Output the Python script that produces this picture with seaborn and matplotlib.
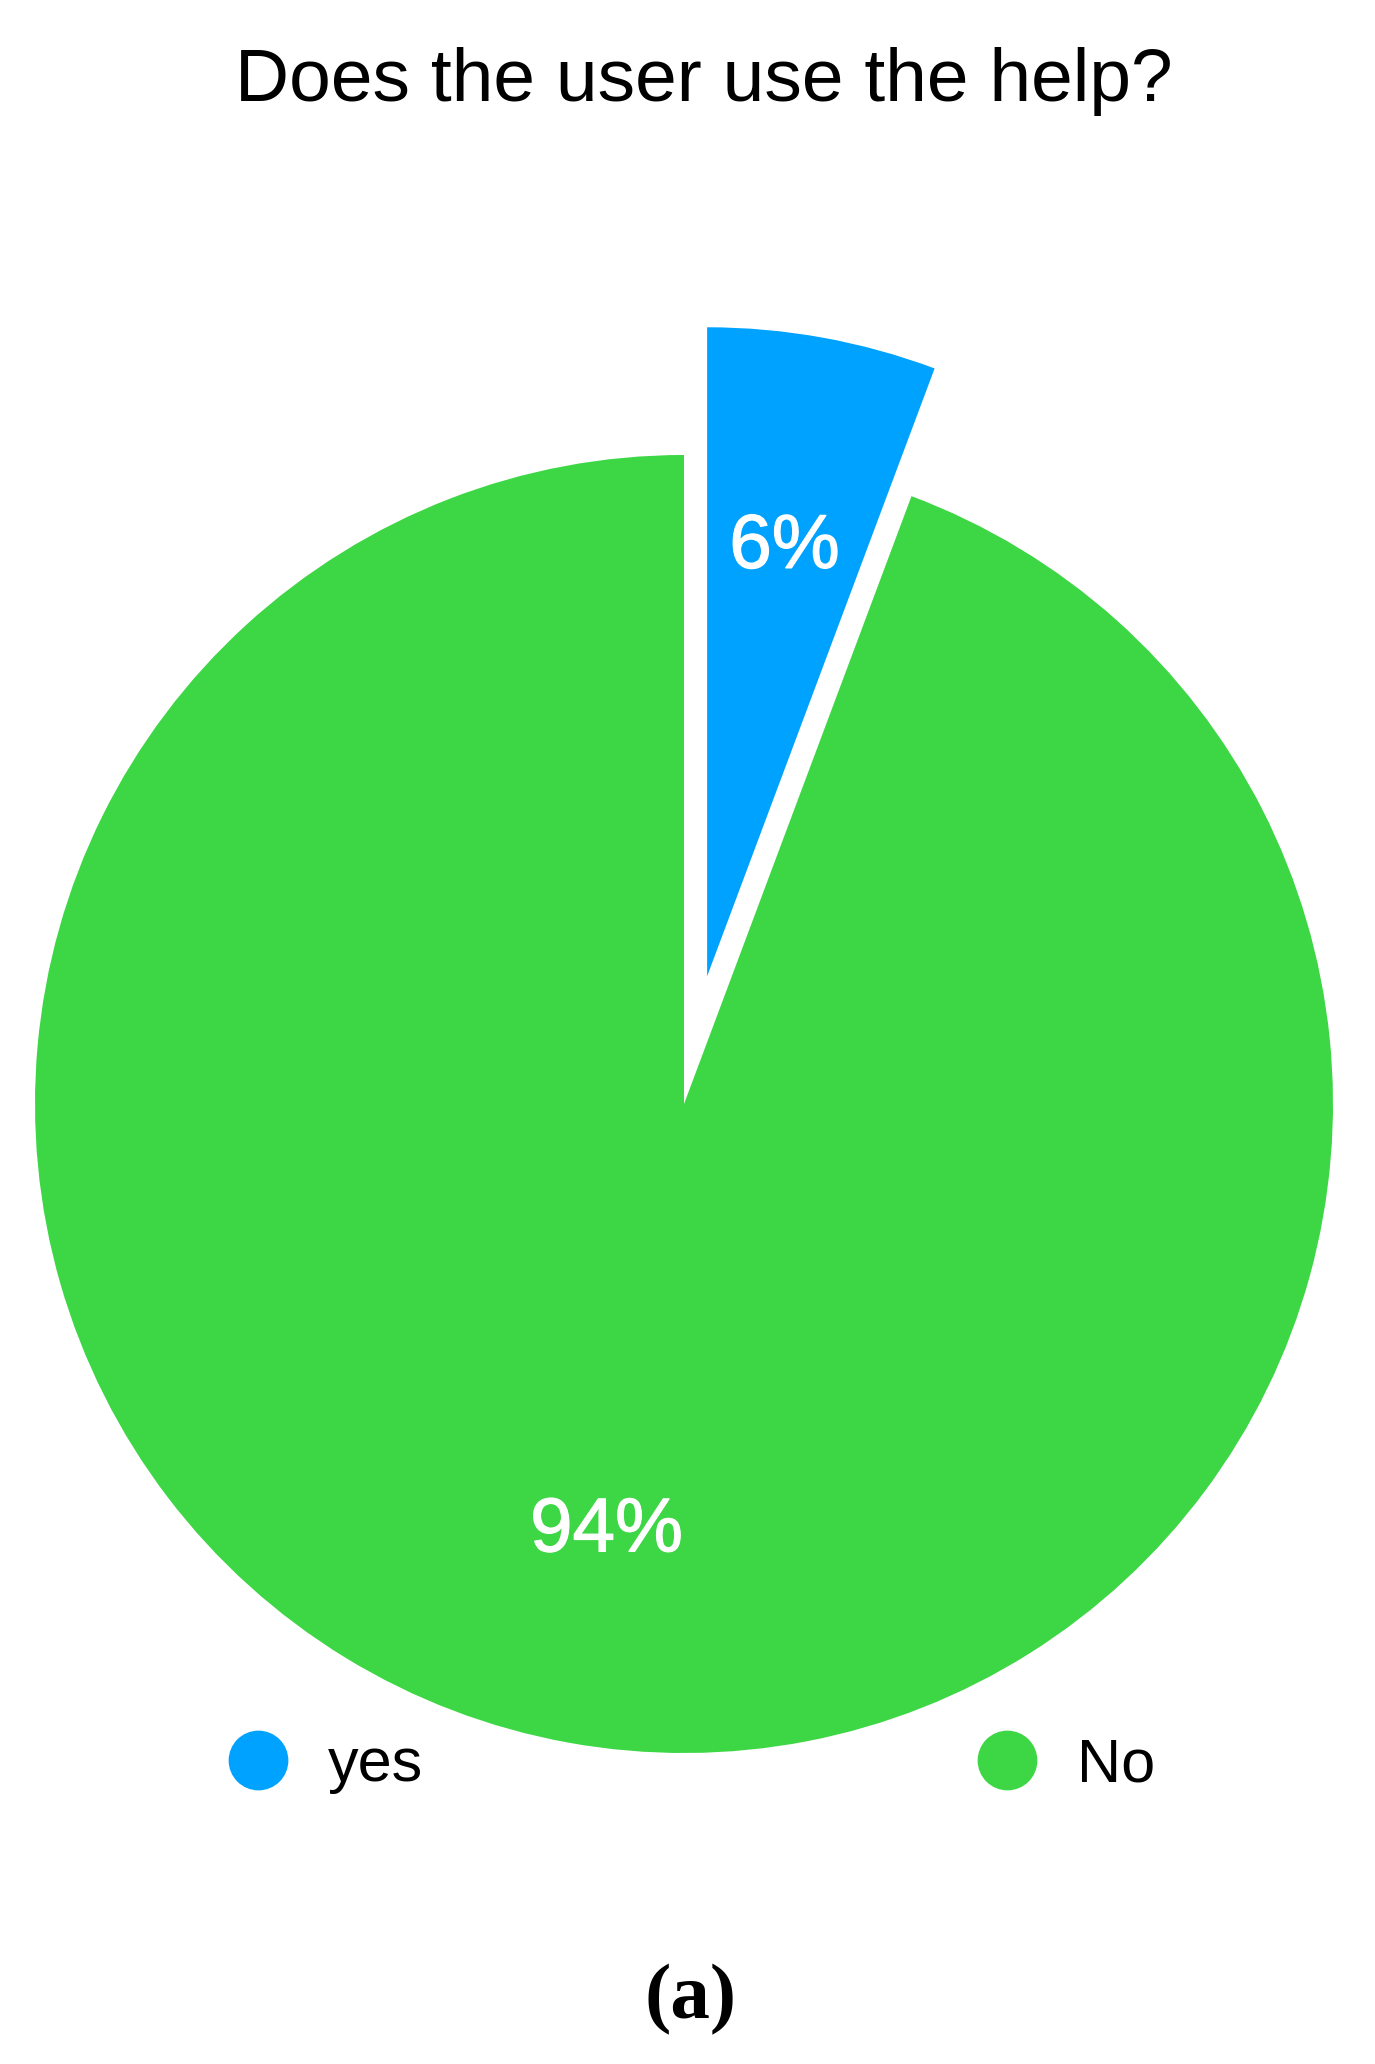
import matplotlib
matplotlib.use("Agg")
import matplotlib.pyplot as plt
import matplotlib.patheffects as pe
from matplotlib.lines import Line2D
import seaborn as sns

# data
labels = ["yes", "No"]
shares = [5.7, 94.3]
colors = ["#00A2FF", "#3DD645"]
title = "Does the user use the help?"
panel = "(a)"

sns.set_theme(style="white")
plt.rcParams['font.family'] = ['Liberation Sans', 'DejaVu Sans']
plt.rcParams['text.color'] = 'black'
palette = sns.color_palette(colors)

W, H = 1375, 2064
fig = plt.figure(figsize=(W / 100, H / 100), dpi=100)
ax = fig.add_axes([0, 0, 1, 1])

# pie centre / radius in pixels, radius becomes 1 data unit
cx, cy, r = 684, 1104, 649
wedges, texts, autotexts = ax.pie(
    shares, colors=palette, startangle=90, counterclock=False,
    explode=[0.2, 0], autopct='%1.0f%%', pctdistance=0.67,
    wedgeprops=dict(linewidth=0),
    textprops=dict(color="white", fontsize=55))
for t in autotexts:
    t.set_path_effects([pe.withStroke(linewidth=0.9, foreground="white")])
ax.set_xlim(-cx / r, (W - cx) / r)
ax.set_ylim(-(H - cy) / r, cy / r)
ax.set_aspect('equal')
ax.axis('off')

fig.text(704 / W, 1 - 81 / H, title, ha='center', va='center',
         fontsize=54, color='black')

handles = [Line2D([], [], marker='o', linestyle='', markersize=42,
                  markerfacecolor=c, markeredgecolor=c) for c in palette]
leg = fig.legend(handles, labels, loc='center left', ncol=2, frameon=False,
                 fontsize=44, handlelength=1.0, handletextpad=0.65,
                 columnspacing=9.05, borderpad=0, borderaxespad=0,
                 bbox_to_anchor=(227 / W, 1 - 1766 / H))
for t in leg.get_texts():
    t.set_color('black')

fig.text(691 / W, 1 - 2000 / H, panel, ha='center', va='center',
         fontsize=57, fontweight='bold', color='black',
         family=['Liberation Serif'])

fig.savefig("out.png", dpi=100)
